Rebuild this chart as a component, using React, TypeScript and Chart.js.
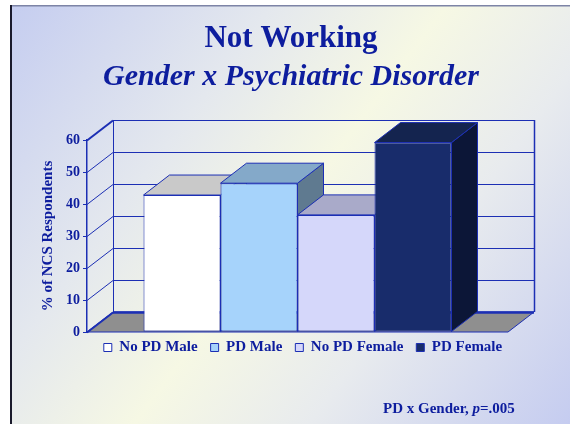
import React, { useEffect, useRef } from "react";
import { Chart, registerables } from "chart.js";

Chart.register(...registerables);

// ---- data ----
const categories = [""];
const seriesNames = ["No PD Male", "PD Male", "No PD Female", "PD Female"];
const seriesValues = [42.8, 46.5, 36.6, 59.2];
const yMin = 0;
const yMax = 60;
const yStep = 10;
const titleText = "Not Working";
const subtitleText = "Gender x Psychiatric Disorder";
const yTitle = "% of NCS Respondents";
const noteParts = ["PD x Gender, ", "p", "=.005"];

// ---- styles ----
const FONT = "'Liberation Serif', 'Times New Roman', serif";
const TEXT = "#0d1d9e";
const EDGE = "#1c2fb4";
const FLOOR = "#8f8f8f";
const FRONT = ["#ffffff", "#a6d3fb", "#d5d7fa", "#182c6b"];
const TOP = ["#c9c9c9", "#84a9c9", "#a9aac9", "#14244f"];
const SIDE = ["#9a9a9a", "#5f7a90", "#8a8ba8", "#0c1637"];
const DX = 26;
const DY = -20;

function poly(ctx: CanvasRenderingContext2D, pts: number[][], fill: string | null, stroke: string, lw = 1) {
  ctx.beginPath();
  ctx.moveTo(pts[0][0], pts[0][1]);
  for (let i = 1; i < pts.length; i++) ctx.lineTo(pts[i][0], pts[i][1]);
  ctx.closePath();
  if (fill) {
    ctx.fillStyle = fill;
    ctx.fill();
  }
  ctx.strokeStyle = stroke;
  ctx.lineWidth = lw;
  ctx.stroke();
}

function line(ctx: CanvasRenderingContext2D, x1: number, y1: number, x2: number, y2: number, lw = 1) {
  ctx.beginPath();
  ctx.moveTo(x1, y1);
  ctx.lineTo(x2, y2);
  ctx.strokeStyle = EDGE;
  ctx.lineWidth = lw;
  ctx.stroke();
}

export default function App() {
  const ref = useRef<HTMLCanvasElement>(null);

  useEffect(() => {
    document.body.style.margin = "0";
    const canvas = ref.current!;

    const plugin = {
      id: "threeD",
      beforeDraw(chart: any) {
        const ctx: CanvasRenderingContext2D = chart.ctx;
        const W = chart.width;
        const H = chart.height;
        ctx.save();
        ctx.fillStyle = "#ffffff";
        ctx.fillRect(0, 0, W, H);
        const g = ctx.createLinearGradient(10, 6, W, H);
        g.addColorStop(0, "#c5cdf0");
        g.addColorStop(0.3, "#e4e8ee");
        g.addColorStop(0.5, "#f6f8e4");
        g.addColorStop(0.7, "#e8ebee");
        g.addColorStop(1, "#c5ccf0");
        ctx.fillStyle = g;
        ctx.fillRect(10, 6, W - 10, H - 6);
        ctx.fillStyle = "#7d84a6";
        ctx.fillRect(10, 5, W - 10, 1.5);
        ctx.fillStyle = "#1a1a2c";
        ctx.fillRect(10, 5, 2, H - 5);
        ctx.restore();
      },
      afterLayout(chart: any) {
        const lg = chart.legend;
        if (lg) {
          lg.top -= 5;
          lg.bottom -= 5;
          lg.left += 12;
          lg.right += 12;
        }
      },
      beforeDatasetsDraw(chart: any) {
        const ctx: CanvasRenderingContext2D = chart.ctx;
        const { left: L, right: R, top: T, bottom: B } = chart.chartArea;
        const ys = chart.scales.y;
        ctx.save();
        // floor
        poly(ctx, [[L, B], [R, B], [R + DX, B + DY], [L + DX, B + DY]], FLOOR, EDGE, 1);
        // grid on back wall and left wall
        for (const t of ys.ticks) {
          const y = Math.round(ys.getPixelForValue(t.value)) + 0.5;
          line(ctx, L + DX, y + DY, R + DX, y + DY, t.value === yMin ? 2.5 : 1);
          line(ctx, L, y, L + DX, y + DY, t.value === yMin || t.value === yMax ? 2 : 1);
        }
        line(ctx, Math.round(L + DX) + 0.5, T + DY, Math.round(L + DX) + 0.5, B + DY);
        line(ctx, Math.round(R + DX) + 0.5, T + DY, Math.round(R + DX) + 0.5, B + DY, 1.5);
        // bar depth faces
        chart.data.datasets.forEach((_ds: any, i: number) => {
          const meta = chart.getDatasetMeta(i);
          meta.data.forEach((el: any) => {
            const { x, y, base, width } = el.getProps(["x", "y", "base", "width"], true);
            const l = x - width / 2;
            const r = x + width / 2;
            poly(ctx, [[r, y], [r + DX, y + DY], [r + DX, base + DY], [r, base]], SIDE[i], EDGE, 1);
            poly(ctx, [[l, y], [r, y], [r + DX, y + DY], [l + DX, y + DY]], TOP[i], EDGE, 1);
          });
        });
        ctx.restore();
      },
      afterDraw(chart: any) {
        const ctx: CanvasRenderingContext2D = chart.ctx;
        ctx.save();
        ctx.fillStyle = TEXT;
        ctx.textBaseline = "alphabetic";
        ctx.textAlign = "left";
        let x = 383;
        const y = 413;
        noteParts.forEach((p, i) => {
          ctx.font = (i === 1 ? "italic bold 15px " : "bold 15px ") + FONT;
          ctx.fillText(p, x, y);
          x += ctx.measureText(p).width;
        });
        ctx.restore();
      },
    };

    const chart = new Chart(canvas, {
      type: "bar",
      data: {
        labels: categories,
        datasets: seriesNames.map((name, i) => ({
          label: name,
          data: [seriesValues[i]],
          backgroundColor: FRONT[i],
          borderColor: EDGE,
          borderWidth: 1,
          borderSkipped: false,
          categoryPercentage: 0.7316,
          barPercentage: 1,
          yAxisID: "y",
        })),
      },
      options: {
        responsive: false,
        animation: false,
        events: [],
        layout: { padding: { left: 12, right: 0, top: 0, bottom: 54 } },
        scales: {
          x: { display: false },
          y: {
            position: "left",
            min: yMin,
            max: yMax,
            ticks: {
              stepSize: yStep,
              color: TEXT,
              padding: 3,
              font: { family: FONT, size: 14, weight: "bold" },
            },
            grid: {
              display: true,
              drawOnChartArea: false,
              drawTicks: true,
              tickLength: 4,
              color: EDGE,
            },
            border: { display: true, color: EDGE, width: 1.5 },
            title: {
              display: true,
              text: yTitle,
              color: TEXT,
              padding: { top: 27, bottom: 0 },
              font: { family: FONT, size: 15, weight: "bold" },
            },
            afterFit(s: any) {
              s.width = 75;
            },
          },
          yR: {
            type: "linear",
            position: "right",
            display: true,
            grid: { display: false },
            border: { display: false },
            ticks: { display: false },
            afterFit(s: any) {
              s.width = 62;
            },
          },
        },
        plugins: {
          tooltip: { enabled: false },
          title: {
            display: true,
            text: titleText,
            color: TEXT,
            padding: { top: 20, bottom: 0 },
            font: { family: FONT, size: 31, weight: "bold", lineHeight: 1.2 },
          },
          subtitle: {
            display: true,
            text: subtitleText,
            color: TEXT,
            padding: { top: 2, bottom: 44.8 },
            font: { family: FONT, size: 30, weight: "bold", style: "italic", lineHeight: 1.2 },
          },
          legend: {
            display: true,
            position: "bottom",
            labels: {
              boxWidth: 8,
              boxHeight: 8,
              padding: 13,
              color: TEXT,
              font: { family: FONT, size: 15, weight: "bold" },
            },
          },
        },
      },
      plugins: [plugin],
    } as any);

    return () => chart.destroy();
  }, []);

  return <canvas ref={ref} width={570} height={424} style={{ display: "block" }} />;
}
